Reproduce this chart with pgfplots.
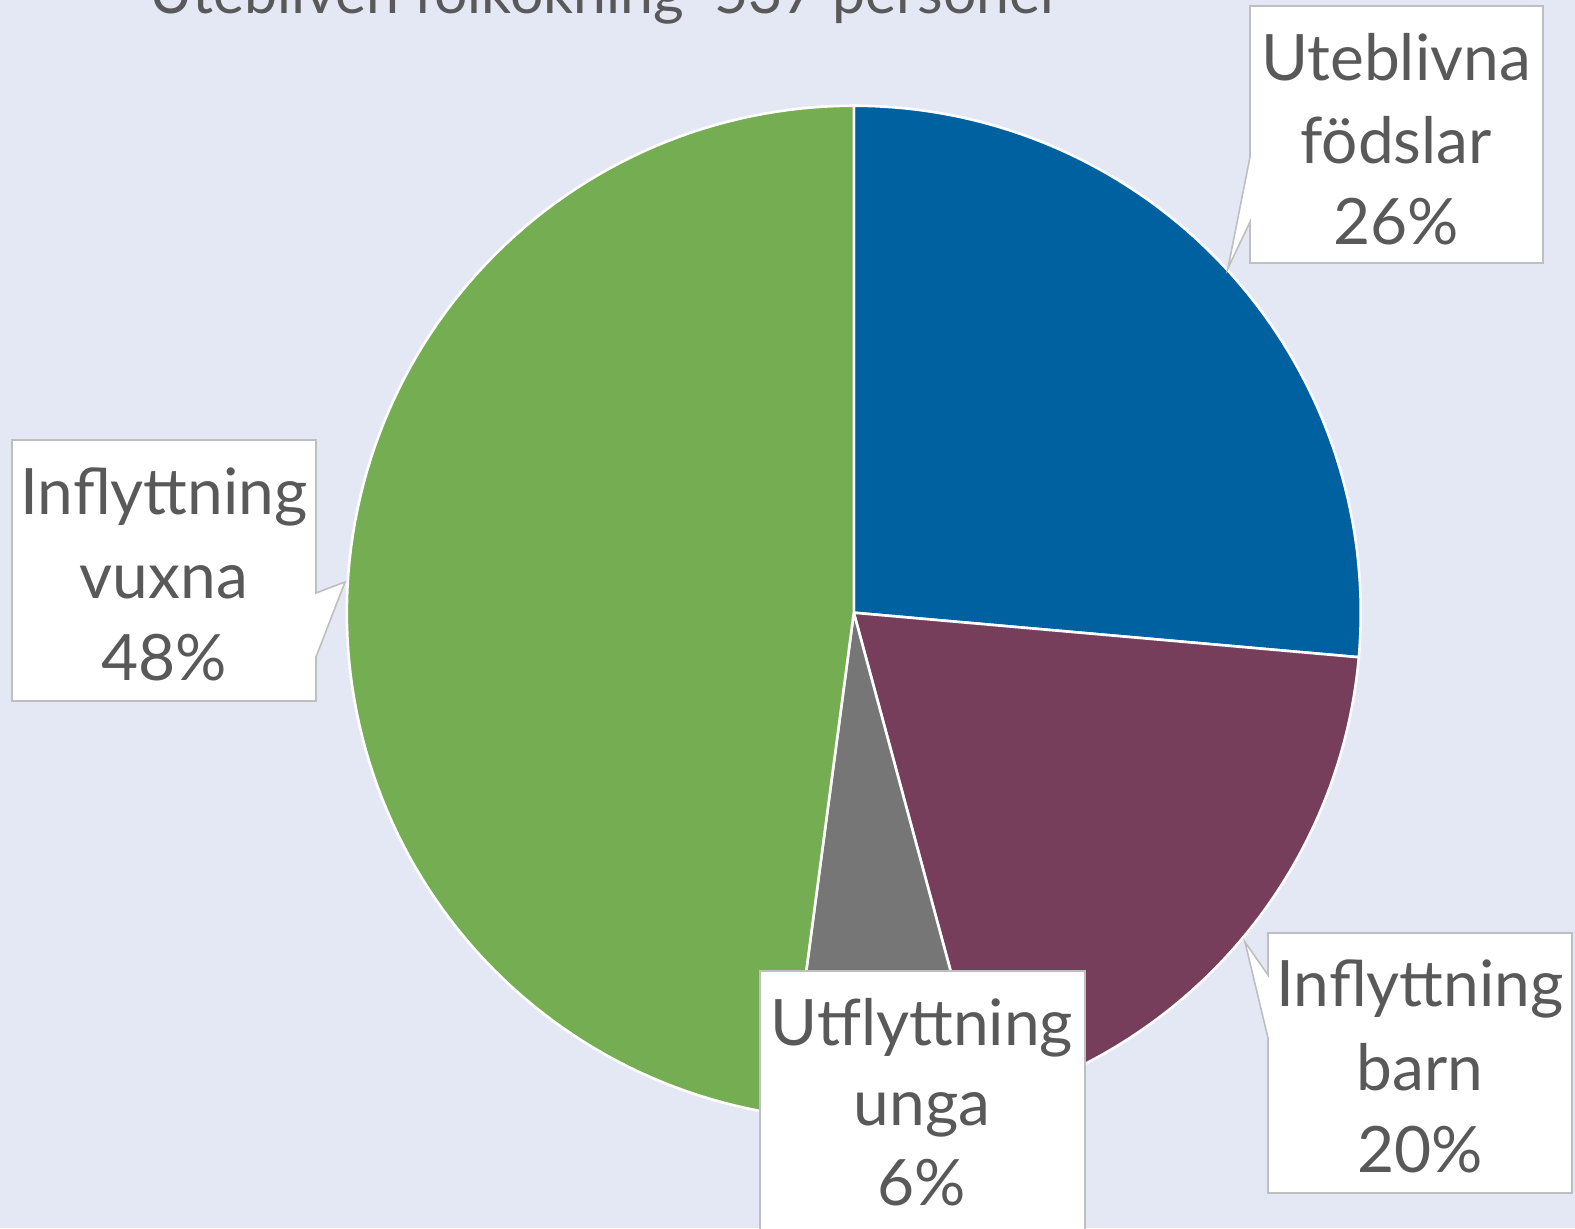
\documentclass[border=0pt]{standalone}
\usepackage{pgfplots}
\pgfplotsset{compat=1.18}
\usepackage{fontspec}
\setmainfont{Lato}
\definecolor{bgc}{HTML}{E4E8F5}
\definecolor{cblue}{HTML}{0061A0}
\definecolor{cmaroon}{HTML}{773E5B}
\definecolor{cgray}{HTML}{767676}
\definecolor{cgreen}{HTML}{74AD52}
\definecolor{bord}{HTML}{BFBFBF}
\definecolor{txt}{HTML}{595959}
% slice values (percent)
\def\vA{26.4}% Uteblivna födslar
\def\vB{19.4}% Inflyttning barn
\def\vC{6.3}%  Utflyttning unga
\def\vD{47.9}% Inflyttning vuxna
\def\cx{853.8}
\def\cy{612.7}
\def\rr{507}
\pgfmathsetmacro\aA{90}
\pgfmathsetmacro\aB{\aA-3.6*\vA}
\pgfmathsetmacro\aC{\aB-3.6*\vB}
\pgfmathsetmacro\aD{\aC-3.6*\vC}
\pgfmathsetmacro\aE{\aD-3.6*\vD}
\begin{document}
\begin{tikzpicture}
\path[use as bounding box] (0,0) rectangle (787.5pt,614pt);
\clip (0,0) rectangle (787.5pt,614pt);
\fill[bgc] (0,0) rectangle (787.5pt,614pt);
\begin{axis}[at={(0,0)}, anchor=south west, scale only axis,
  width=787.5pt, height=614pt, xmin=0, xmax=1575, ymin=0, ymax=1228,
  y dir=reverse, hide axis, clip=false]
\addplot[fill=cblue, draw=white, line width=1.3pt, domain=\aA:\aB, samples=80, variable=\t]
  ({\cx+\rr*cos(\t)},{\cy-\rr*sin(\t)}) -- (axis cs:\cx,\cy) -- cycle;
\addplot[fill=cmaroon, draw=white, line width=1.3pt, domain=\aB:\aC, samples=80, variable=\t]
  ({\cx+\rr*cos(\t)},{\cy-\rr*sin(\t)}) -- (axis cs:\cx,\cy) -- cycle;
\addplot[fill=cgray, draw=white, line width=1.3pt, domain=\aC:\aD, samples=40, variable=\t]
  ({\cx+\rr*cos(\t)},{\cy-\rr*sin(\t)}) -- (axis cs:\cx,\cy) -- cycle;
\addplot[fill=cgreen, draw=white, line width=1.3pt, domain=\aD:\aE, samples=120, variable=\t]
  ({\cx+\rr*cos(\t)},{\cy-\rr*sin(\t)}) -- (axis cs:\cx,\cy) -- cycle;
% callout boxes
\filldraw[fill=white, draw=bord, line width=0.8pt]
  (axis cs:1250,6) -- (axis cs:1543,6) -- (axis cs:1543,263) -- (axis cs:1250,263)
  -- (axis cs:1250,222) -- (axis cs:1228,268) -- (axis cs:1250,157) -- cycle;
\filldraw[fill=white, draw=bord, line width=0.8pt]
  (axis cs:12,440) -- (axis cs:316,440) -- (axis cs:316,593) -- (axis cs:345,582)
  -- (axis cs:316,657) -- (axis cs:316,701) -- (axis cs:12,701) -- cycle;
\filldraw[fill=white, draw=bord, line width=0.8pt]
  (axis cs:1268,933) -- (axis cs:1572,933) -- (axis cs:1572,1193) -- (axis cs:1268,1193)
  -- (axis cs:1268,1038) -- (axis cs:1245,942) -- (axis cs:1268,975) -- cycle;
\filldraw[fill=white, draw=bord, line width=0.8pt]
  (axis cs:760,971) -- (axis cs:1085,971) -- (axis cs:1085,1240) -- (axis cs:760,1240) -- cycle;
\tikzset{lbl/.style={anchor=base, inner sep=0pt, text=txt, font=\fontsize{32}{40}\selectfont}}
\node[lbl] at (axis cs:1396,80) {Uteblivna};
\node[lbl] at (axis cs:1396,163) {födslar};
\node[lbl] at (axis cs:1396,244) {26\%};
\node[lbl] at (axis cs:164,514) {Inflyttning};
\node[lbl] at (axis cs:164,598) {vuxna};
\node[lbl] at (axis cs:164,680) {48\%};
\node[lbl] at (axis cs:1420,1006) {Inflyttning};
\node[lbl] at (axis cs:1420,1090) {barn};
\node[lbl] at (axis cs:1420,1172) {20\%};
\node[lbl] at (axis cs:922,1045) {Utflyttning};
\node[lbl] at (axis cs:922,1125) {unga};
\node[lbl] at (axis cs:922,1205) {6\%};
\node[lbl, font=\fontsize{29.5}{36}\selectfont] at (axis cs:606,13) {Utebliven folkökning ~537 personer};
\end{axis}
\end{tikzpicture}
\end{document}
